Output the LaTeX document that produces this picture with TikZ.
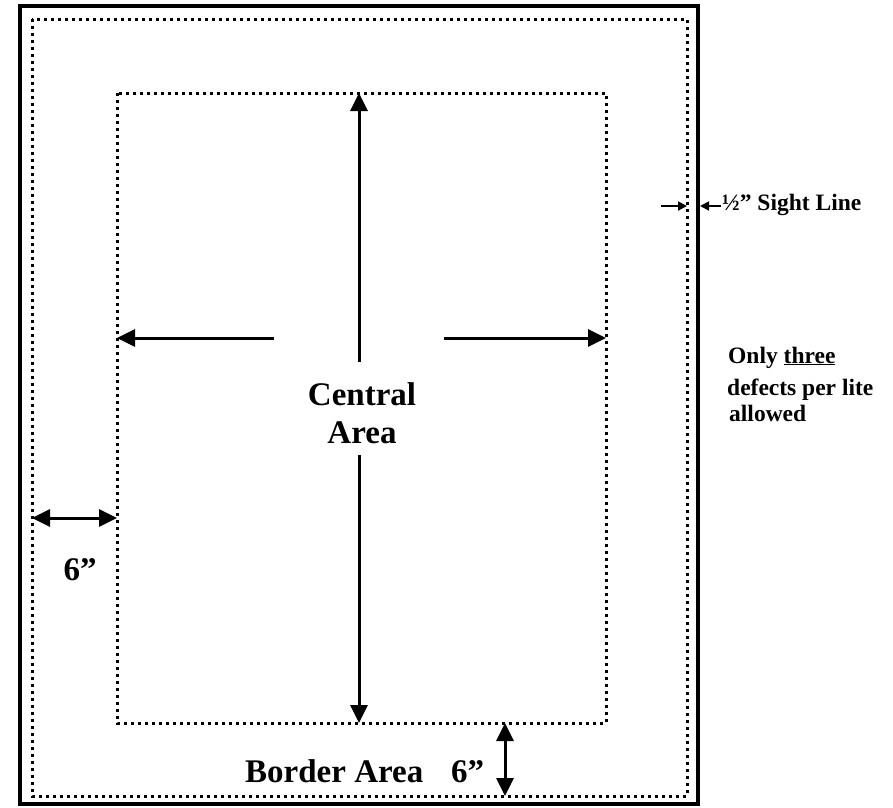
\documentclass[tikz,border=0pt]{standalone}
\usepackage{fontspec}
\setmainfont{Liberation Serif}
\usetikzlibrary{arrows.meta}
\tikzset{
  frame/.style={line width=4.5pt},
  dotline/.style={line width=3pt, dash pattern=on 3pt off 4pt},
  bigarrow/.style={line width=3pt, -{Triangle[length=18pt,width=17pt]}},
  dblarrow/.style={line width=3pt, {Triangle[length=18pt,width=17pt]}-{Triangle[length=18pt,width=17pt]}},
  smallarrow/.style={line width=1.8pt, -{Triangle[length=9pt,width=9pt]}},
  bigtext/.style={font=\fontsize{33}{38}\selectfont\bfseries, inner sep=0pt, anchor=base},
  smalltext/.style={font=\fontsize{23.5}{27}\selectfont\bfseries, inner sep=0pt, anchor=base west}
}
\begin{document}
\begin{tikzpicture}[x=1pt,y=-1pt]
\useasboundingbox (0,0) rectangle (893,807);
% frame and areas
\draw[frame] (20,6) rectangle (698,804);
\draw[dotline] (32,19) rectangle (687,796);
\draw[dotline] (117,93) rectangle (606,723);
% coordinates
\coordinate (ctop) at (359,93);
\coordinate (cbot) at (359,723);
\coordinate (vtopstart) at (359,362);
\coordinate (vbotstart) at (359,455);
\coordinate (lstart) at (274,338);
\coordinate (lend) at (117,338);
\coordinate (rstart) at (444,338);
\coordinate (rend) at (606,338);
\coordinate (sixl) at (32,518);
\coordinate (sixr) at (117,518);
\coordinate (bt) at (505,723);
\coordinate (bb) at (505,796);
\coordinate (sla) at (661,206);
\coordinate (slb) at (687,206);
\coordinate (slc) at (721,206);
\coordinate (sld) at (700,206);
% arrows
\draw[bigarrow] (vtopstart) -- (ctop);
\draw[bigarrow] (vbotstart) -- (cbot);
\draw[bigarrow] (lstart) -- (lend);
\draw[bigarrow] (rstart) -- (rend);
\draw[dblarrow] (sixl) -- (sixr);
\draw[dblarrow] (bt) -- (bb);
\draw[smallarrow] (sla) -- (slb);
\draw[smallarrow] (slc) -- (sld);
% texts
\node[bigtext] (central) at (362,405) {Central};
\node[bigtext] (area) at (362,443) {Area};
\node[bigtext] (six1) at (80,580) {6”};
\node[bigtext, anchor=base west] (border) at (245,782) {Border Area};
\node[bigtext, anchor=base west] (six2) at (451,782) {6”};
\node[smalltext] (sight) at (722,210) {½” Sight Line};
\node[smalltext] (only) at (728,363) {Only \underline{three}};
\node[smalltext] (defects) at (727,395) {defects per lite};
\node[smalltext] (allowed) at (729,421) {allowed};
\end{tikzpicture}
\end{document}
